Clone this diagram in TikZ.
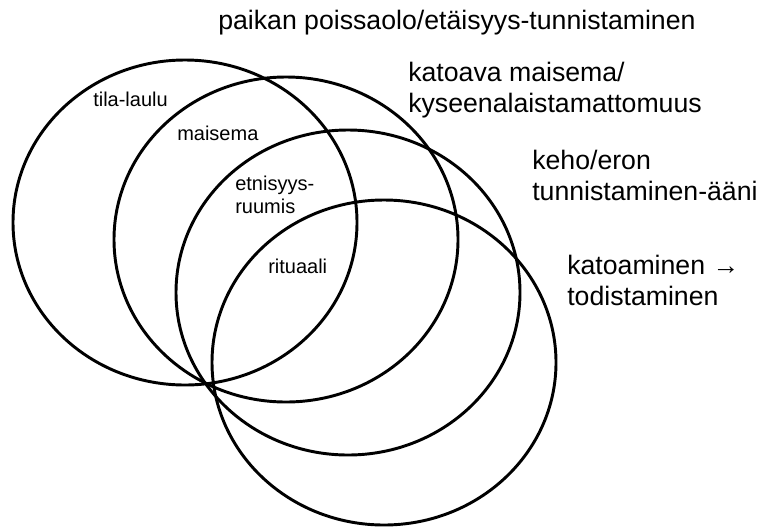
\documentclass[tikz,border=0pt]{standalone}
\usepackage{fontspec}
\setmainfont{Liberation Sans}

\begin{document}
\begin{tikzpicture}[x=0.75pt,y=-0.75pt,
    ring/.style={line width=2.2pt},
    big/.style={anchor=base west,align=left,inner sep=0pt,font=\fontsize{20}{23.25}\selectfont},
    small/.style={anchor=base west,align=left,inner sep=0pt,font=\fontsize{15}{17.25}\selectfont}]
    \useasboundingbox (0,0) rectangle (766,529);
    \draw[ring] (185,222.5) ellipse [x radius=172,y radius=162.5];
    \draw[ring] (286,239.5) ellipse [x radius=172,y radius=162.5];
    \draw[ring] (348,292.5) ellipse [x radius=172,y radius=162.5];
    \draw[ring] (384,362.5) ellipse [x radius=172,y radius=162.5];
    % base anchor sits on the last line
    \node[big] (place) at (218,29) {paikan poissaolo/etäisyys-tunnistaminen};
    \node[big] (landscape) at (408,112) {katoava maisema/\\kyseenalaistamattomuus};
    \node[big] (body) at (532,200) {keho/eron\\tunnistaminen-ääni};
    \node[big] (witness) at (567,305) {katoaminen →\\todistaminen};
    \node[small] (song) at (93,106) {tila-laulu};
    \node[small] (scape) at (177,140) {maisema};
    \node[small] (ethnic) at (235,213) {etnisyys-\\ruumis};
    \node[small] (ritual) at (268,273) {rituaali};
  \end{tikzpicture}
\end{document}
